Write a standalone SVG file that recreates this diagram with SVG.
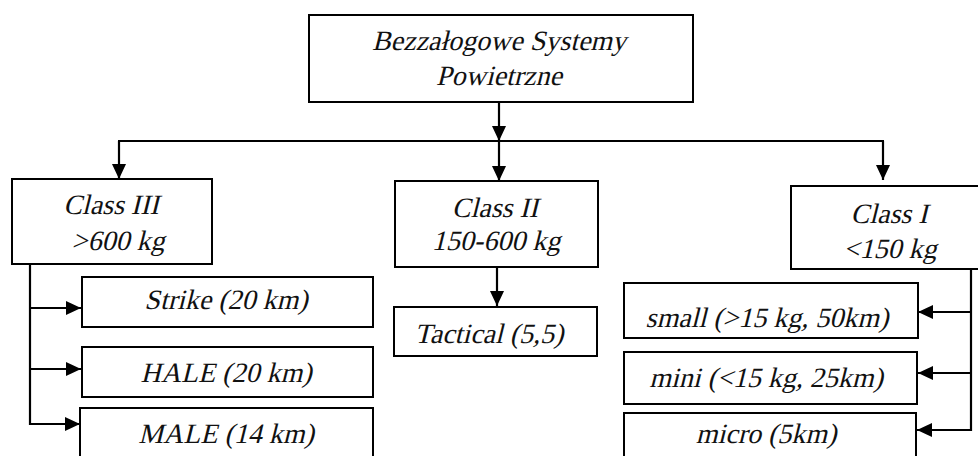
<svg xmlns="http://www.w3.org/2000/svg" width="978" height="456" viewBox="0 0 978 456">
<style>
rect{fill:#fff;stroke:#000;stroke-width:2}
text{font-family:"Liberation Serif","Times New Roman",serif;font-size:28px;fill:#111;text-anchor:middle}
.c line,.c polyline{stroke:#000;stroke-width:2.2;fill:none}
</style>
<defs>
<marker id="ah" markerUnits="userSpaceOnUse" markerWidth="16" markerHeight="14" refX="15" refY="7" orient="auto">
<path d="M0,0 L15,7 L0,14 z" fill="#000"/>
</marker>
</defs>
<rect width="978" height="456" style="fill:#fff;stroke:none"/>
<g class="c" id="connectors">
<line x1="499" y1="102" x2="499" y2="141" marker-end="url(#ah)"/>
<line x1="118" y1="141" x2="884" y2="141"/>
<line x1="119" y1="141" x2="119" y2="179" marker-end="url(#ah)"/>
<line x1="499" y1="141" x2="499" y2="181" marker-end="url(#ah)"/>
<line x1="883" y1="141" x2="883" y2="180" marker-end="url(#ah)"/>
<line x1="497" y1="267" x2="497" y2="306" marker-end="url(#ah)"/>
<polyline points="30,264 30,424 80,424" marker-end="url(#ah)"/>
<line x1="30" y1="308" x2="81" y2="308" marker-end="url(#ah)"/>
<line x1="30" y1="369" x2="81" y2="369" marker-end="url(#ah)"/>
<polyline points="971,269 971,430 917,430" marker-end="url(#ah)"/>
<line x1="971" y1="312" x2="918" y2="312" marker-end="url(#ah)"/>
<line x1="971" y1="373" x2="918" y2="373" marker-end="url(#ah)"/>
</g>
<g id="root"><rect x="309" y="15" width="384" height="87"/><text transform="translate(499,50) skewX(-14)">Bezzałogowe Systemy</text><text transform="translate(499,85) skewX(-14)">Powietrzne</text></g>
<g id="class3"><rect x="12" y="179" width="200" height="85"/><text transform="translate(111,214) skewX(-14)">Class III</text><text transform="translate(118,250) skewX(-14)">&gt;600 kg</text></g>
<g id="class2"><rect x="395" y="181" width="203" height="86"/><text transform="translate(495,217) skewX(-14)">Class II</text><text transform="translate(496,250) skewX(-14)">150-600 kg</text></g>
<g id="class1"><rect x="791" y="186" width="200" height="83"/><text transform="translate(889,223) skewX(-14)">Class I</text><text transform="translate(890,258) skewX(-14)">&lt;150 kg</text></g>
<g id="strike"><rect x="82" y="277" width="291" height="50"/><text transform="translate(226,309) skewX(-14)">Strike (20 km)</text></g>
<g id="hale"><rect x="82" y="347" width="291" height="50"/><text transform="translate(226,382) skewX(-14)">HALE (20 km)</text></g>
<g id="male"><rect x="80" y="408" width="293" height="60"/><text transform="translate(226,443) skewX(-14)">MALE (14 km)</text></g>
<g id="tactical"><rect x="394" y="307" width="203" height="49"/><text transform="translate(489,343) skewX(-14)">Tactical (5,5)</text></g>
<g id="small"><rect x="624" y="283" width="294" height="55"/><text transform="translate(767,327) skewX(-14)">small (&gt;15 kg, 50km)</text></g>
<g id="mini"><rect x="624" y="352" width="293" height="52"/><text transform="translate(766,387) skewX(-14)">mini (&lt;15 kg, 25km)</text></g>
<g id="micro"><rect x="624" y="413" width="292" height="60"/><text transform="translate(766,443) skewX(-14)">micro (5km)</text></g>
</svg>
